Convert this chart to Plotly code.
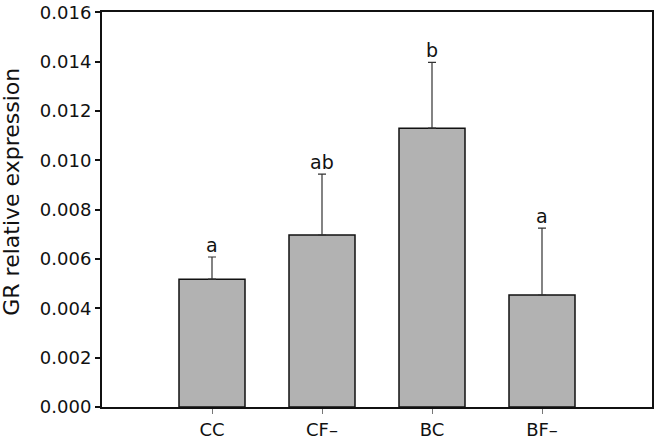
import plotly.graph_objects as go

# values
groups = ["CC", "CF\u2013", "BC", "BF\u2013"]
means = [0.00518, 0.00697, 0.01130, 0.00454]
errors = [0.00090, 0.00247, 0.00267, 0.00271]
letters = ["a", "ab", "b", "a"]
y_ticks = [0.000, 0.002, 0.004, 0.006, 0.008, 0.010, 0.012, 0.014, 0.016]

FONT = "DejaVu Sans"
INK = "#111111"

fig = go.Figure()
fig.add_trace(go.Bar(
    x=list(range(len(groups))), y=means, width=0.6,
    marker=dict(color="#b2b2b2", line=dict(color=INK, width=1.5)),
    error_y=dict(type="data", array=errors, arrayminus=[0] * len(errors),
                 symmetric=False, color="#333333", thickness=1.2, width=4),
    showlegend=False,
))

# significance letters above each error bar
for i, (m, e, t) in enumerate(zip(means, errors, letters)):
    fig.add_annotation(x=i, y=m + e, text=t, showarrow=False,
                       yanchor="bottom", yshift=-1,
                       font=dict(family=FONT, size=19, color=INK))

# y title placed by hand (it sits a little above the plot's middle)
fig.add_annotation(xref="paper", yref="paper", x=-0.1636, y=0.545,
                   text="GR relative expression", textangle=-90,
                   showarrow=False, xanchor="center", yanchor="middle",
                   font=dict(family=FONT, size=22, color=INK))

fig.update_xaxes(
    range=[-1, 4], tickvals=list(range(len(groups))), ticktext=groups,
    showline=True, linecolor=INK, linewidth=2, mirror=True,
    ticks="outside", ticklen=5, tickcolor="#777777", tickwidth=1,
    showgrid=False, zeroline=False, automargin=False,
    tickfont=dict(family=FONT, size=18, color=INK),
)
fig.update_yaxes(
    range=[0, 0.01601], tickvals=y_ticks, ticktext=[f"{v:.3f}" for v in y_ticks],
    showline=True, linecolor=INK, linewidth=2, mirror=True,
    ticks="outside", ticklen=5, tickcolor=INK, tickwidth=1.5,
    showgrid=False, zeroline=False, automargin=False,
    tickfont=dict(family=FONT, size=18, color=INK),
)
fig.update_layout(
    width=655, height=442,
    margin=dict(l=102, r=3, t=12, b=35),
    paper_bgcolor="white", plot_bgcolor="white",
)

fig.write_html("out.html", config={"displayModeBar": False},
               post_script="document.body.style.margin='0';")
